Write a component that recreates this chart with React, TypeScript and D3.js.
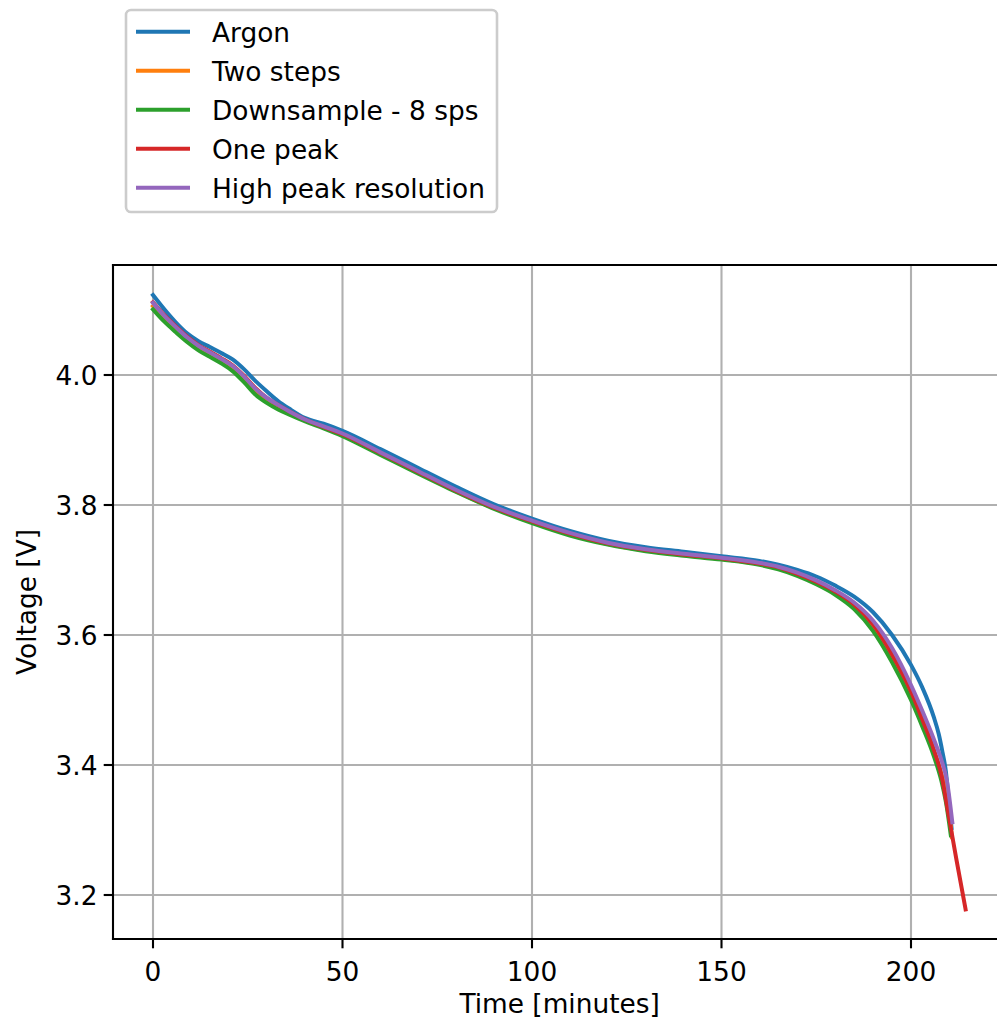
import React from "react";
import * as d3 from "d3";

// ---------- DATA ----------
const seriesNames = ["Argon", "Two steps", "Downsample - 8 sps", "One peak", "High peak resolution"];
const seriesColors = ["#1f77b4", "#ff7f0e", "#2ca02c", "#d62728", "#9467bd"];

// shared time grid (minutes) for the first part of every series
const headTime = [0, 3, 6, 9, 12, 15, 18, 21, 24, 27, 30, 33, 36, 40, 45, 50, 60, 70, 80, 90, 100, 110, 120, 130, 140, 150, 160, 165, 170, 175, 180];

const argonHead = [4.123, 4.101, 4.081, 4.064, 4.052, 4.043, 4.034, 4.024, 4.009, 3.991, 3.975, 3.960, 3.948, 3.934, 3.925, 3.914, 3.886, 3.857, 3.828, 3.801, 3.779, 3.760, 3.745, 3.735, 3.728, 3.721, 3.714, 3.708, 3.700, 3.690, 3.676];
const twoStepsHead = [4.106, 4.087, 4.070, 4.055, 4.042, 4.032, 4.022, 4.010, 3.994, 3.975, 3.961, 3.951, 3.942, 3.931, 3.920, 3.908, 3.879, 3.850, 3.821, 3.795, 3.774, 3.755, 3.740, 3.730, 3.723, 3.717, 3.709, 3.703, 3.693, 3.680, 3.665];
const downsampleHead = [4.101, 4.082, 4.066, 4.051, 4.038, 4.028, 4.018, 4.006, 3.989, 3.970, 3.957, 3.947, 3.939, 3.929, 3.918, 3.906, 3.877, 3.848, 3.820, 3.794, 3.772, 3.753, 3.739, 3.729, 3.722, 3.716, 3.708, 3.701, 3.691, 3.678, 3.662];
const onePeakHead = [4.112, 4.092, 4.075, 4.059, 4.046, 4.036, 4.026, 4.015, 3.999, 3.980, 3.965, 3.954, 3.944, 3.932, 3.920, 3.909, 3.880, 3.851, 3.822, 3.796, 3.775, 3.756, 3.741, 3.731, 3.724, 3.718, 3.710, 3.704, 3.694, 3.682, 3.667];
const highResHead = [4.111, 4.091, 4.074, 4.058, 4.045, 4.035, 4.025, 4.014, 3.998, 3.979, 3.965, 3.954, 3.944, 3.932, 3.921, 3.910, 3.881, 3.852, 3.823, 3.797, 3.776, 3.757, 3.742, 3.732, 3.725, 3.719, 3.711, 3.705, 3.696, 3.684, 3.669];

// individual tails (after 180 min)
const argonTailTime = [185, 190, 195, 200, 203, 206, 207.3, 208.3, 209.2, 209.9, 210.7];
const argonTail = [3.659, 3.635, 3.600, 3.554, 3.519, 3.474, 3.448, 3.420, 3.390, 3.350, 3.303];
const twoStepsTailTime = [185, 190, 195, 200, 203, 206, 208, 209.5, 210.8];
const twoStepsTail = [3.645, 3.613, 3.567, 3.508, 3.467, 3.422, 3.387, 3.350, 3.289];
const downsampleTailTime = [185, 190, 195, 200, 203, 206, 208, 209.3, 210.5];
const downsampleTail = [3.640, 3.606, 3.558, 3.500, 3.459, 3.414, 3.376, 3.340, 3.292];
const onePeakTailTime = [185, 190, 195, 200, 203, 206, 208, 210, 212, 214.4];
const onePeakTail = [3.647, 3.616, 3.570, 3.513, 3.470, 3.424, 3.385, 3.320, 3.254, 3.178];
const highResTailTime = [185, 190, 195, 200, 203, 206, 208, 209.5, 210.9];
const highResTail = [3.650, 3.622, 3.580, 3.523, 3.483, 3.440, 3.408, 3.375, 3.312];

const xTicks = [0, 50, 100, 150, 200];
const yTicks = [3.2, 3.4, 3.6, 3.8, 4.0];
const xLabel = "Time [minutes]";
const yLabel = "Voltage [V]";

const heads = [argonHead, twoStepsHead, downsampleHead, onePeakHead, highResHead];
const tailTimes = [argonTailTime, twoStepsTailTime, downsampleTailTime, onePeakTailTime, highResTailTime];
const tails = [argonTail, twoStepsTail, downsampleTail, onePeakTail, highResTail];

// ---------- LAYOUT ----------
const W = 997;
const H = 1024;
const FONT = "'DejaVu Sans', sans-serif";
const FS = 26.4;
const axLeft = 113;
const axTop = 265;
const axBottom = 939;

export default function App() {
  const x = d3.scaleLinear().domain([0, 200]).range([153, 911]);
  const y = d3.scaleLinear().domain([3.2, 4.0]).range([895, 375]);
  const axRight = x(225.12);

  const series = seriesNames.map((name, i) => {
    const pts: [number, number][] = headTime.map((t, j) => [t, heads[i][j]] as [number, number]);
    tailTimes[i].forEach((t, j) => pts.push([t, tails[i][j]]));
    return { name, color: seriesColors[i], pts };
  });

  const line = d3
    .line<[number, number]>()
    .x((d) => x(d[0]))
    .y((d) => y(d[1]))
    .curve(d3.curveMonotoneX);

  const legendX = 126;
  const legendY = 10;
  const legendW = 371;
  const legendH = 202;
  const rowY0 = 31.7;
  const rowGap = 39;

  return (
    <svg
      width={W}
      height={H}
      style={{ position: "absolute", left: 0, top: 0, background: "#fff" }}
      fontFamily={FONT}
    >
      <defs>
        <clipPath id="plotclip">
          <rect x={axLeft} y={axTop} width={axRight - axLeft} height={axBottom - axTop} />
        </clipPath>
      </defs>
      <rect x={0} y={0} width={W} height={H} fill="#fff" />

      {/* grid */}
      {xTicks.map((t) => (
        <line key={"gx" + t} x1={x(t)} x2={x(t)} y1={axTop} y2={axBottom} stroke="#b0b0b0" strokeWidth={2.1} />
      ))}
      {yTicks.map((v) => (
        <line key={"gy" + v} x1={axLeft} x2={axRight} y1={y(v)} y2={y(v)} stroke="#b0b0b0" strokeWidth={2.1} />
      ))}

      {/* lines */}
      <g clipPath="url(#plotclip)">
        {series.map((s) => (
          <path
            key={s.name}
            d={line(s.pts) || ""}
            fill="none"
            stroke={s.color}
            strokeWidth={4}
            strokeLinejoin="round"
            strokeLinecap="square"
          />
        ))}
      </g>

      {/* spines */}
      <line x1={axLeft} x2={axLeft} y1={axTop} y2={axBottom} stroke="#000" strokeWidth={2.1} strokeLinecap="square" />
      <line x1={axLeft} x2={axRight} y1={axBottom} y2={axBottom} stroke="#000" strokeWidth={2.1} strokeLinecap="square" />
      <line x1={axLeft} x2={axRight} y1={axTop} y2={axTop} stroke="#000" strokeWidth={2.1} strokeLinecap="square" />
      <line x1={axRight} x2={axRight} y1={axTop} y2={axBottom} stroke="#000" strokeWidth={2.1} strokeLinecap="square" />

      {/* x ticks */}
      {xTicks.map((t) => (
        <g key={"xt" + t}>
          <line x1={x(t)} x2={x(t)} y1={axBottom} y2={axBottom + 9.3} stroke="#000" strokeWidth={2.1} />
          <text x={x(t)} y={981} textAnchor="middle" fontSize={FS} fill="#000">
            {d3.format("d")(t)}
          </text>
        </g>
      ))}
      {/* y ticks */}
      {yTicks.map((v) => (
        <g key={"yt" + v}>
          <line x1={axLeft - 9.3} x2={axLeft} y1={y(v)} y2={y(v)} stroke="#000" strokeWidth={2.1} />
          <text x={axLeft - 15.5} y={y(v) + 9.6} textAnchor="end" fontSize={FS} fill="#000">
            {d3.format(".1f")(v)}
          </text>
        </g>
      ))}

      {/* axis labels */}
      <text x={(axLeft + axRight) / 2} y={1013} textAnchor="middle" fontSize={FS} fill="#000">
        {xLabel}
      </text>
      <text
        transform={`translate(36, ${(axTop + axBottom) / 2}) rotate(-90)`}
        textAnchor="middle"
        fontSize={FS}
        fill="#000"
      >
        {yLabel}
      </text>

      {/* legend */}
      <rect
        x={legendX}
        y={legendY}
        width={legendW}
        height={legendH}
        rx={5}
        ry={5}
        fill="#fff"
        fillOpacity={0.8}
        stroke="#cccccc"
        strokeWidth={2.6}
      />
      {series.map((s, i) => (
        <g key={"lg" + s.name}>
          <line
            x1={136}
            x2={190}
            y1={rowY0 + i * rowGap}
            y2={rowY0 + i * rowGap}
            stroke={s.color}
            strokeWidth={4}
          />
          <text x={212} y={rowY0 + i * rowGap + 10} fontSize={FS} fill="#000">
            {s.name}
          </text>
        </g>
      ))}
    </svg>
  );
}
